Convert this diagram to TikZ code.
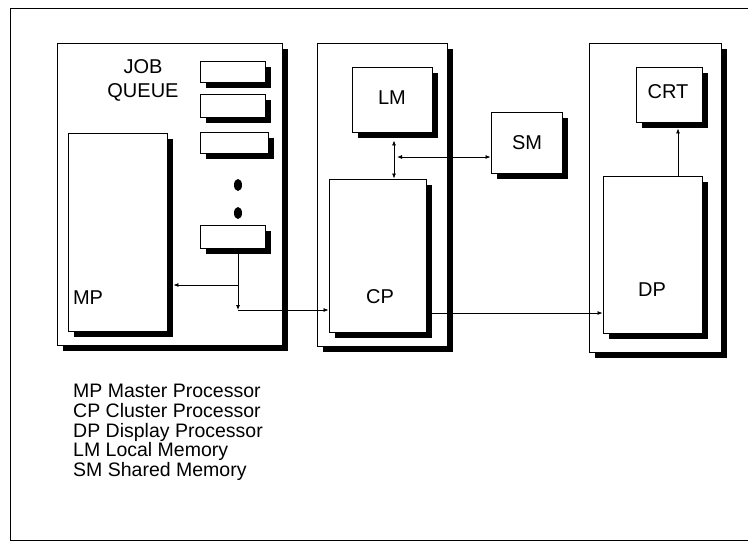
\documentclass[tikz,border=0pt]{standalone}
\usepackage{fontspec}
\setmainfont{Liberation Sans}
\usepackage{tikz}
\usetikzlibrary{arrows.meta, positioning, calc, shadows}

\begin{document}
\begin{tikzpicture}[
    x=1pt, y=-1pt,
    box/.style={draw, line width=0.9pt, fill=white, inner sep=0pt, drop shadow={shadow xshift=6pt, shadow yshift=-6pt, opacity=1, fill=black}},
    txt/.style={font=\fontsize{20}{24}\selectfont, align=center, inner sep=0pt},
    conn/.style={line width=0.8pt, -{Latex[length=5pt,width=4pt]}},
    biconn/.style={line width=0.8pt, {Latex[length=5pt,width=4pt]}-{Latex[length=5pt,width=4pt]}},
]
    \useasboundingbox (0,0) rectangle (748,542);
    \draw[line width=0.9pt] (748,8) -- (10,8) -- (10,540) -- (748,540);

    \node[box, minimum width=225pt, minimum height=302pt] (mpclu) at (169.5,194) {};
    \node[box, minimum width=130pt, minimum height=303pt] (cpclu) at (382,194.5) {};
    \node[box, minimum width=132pt, minimum height=309pt] (dpclu) at (655,197.5) {};

    \node[txt] (jq) at (143,80) {JOB\\QUEUE};
    \node[box, minimum width=65pt, minimum height=21pt] (q1) at (232.5,71.5) {};
    \node[box, minimum width=65pt, minimum height=23pt] (q2) at (232.5,105.5) {};
    \node[box, minimum width=68pt, minimum height=21pt] (q3) at (234,142.5) {};
    \fill (238,185) ellipse (4pt and 6pt);
    \fill (238,213) ellipse (4pt and 6pt);
    \node[box, minimum width=65pt, minimum height=23pt] (q4) at (232.5,236.5) {};
    \node[box, minimum width=99pt, minimum height=198pt] (mp) at (117.5,232) {};
    \node[txt] (mptxt) at (88,298) {MP};

    \node[box, minimum width=80pt, minimum height=65pt] (lm) at (392,99.5) {};
    \node[txt] (lmtxt) at (392,98) {LM};
    \node[box, minimum width=97pt, minimum height=153pt] (cp) at (377.5,255.5) {};
    \node[txt] (cptxt) at (380,297) {CP};
    \node[box, minimum width=71pt, minimum height=61pt] (sm) at (526.5,142.5) {};
    \node[txt] (smtxt) at (527,143) {SM};

    \node[box, minimum width=66pt, minimum height=55pt] (crt) at (669,94.5) {};
    \node[txt] (crttxt) at (668,92) {CRT};
    \node[box, minimum width=99pt, minimum height=157pt] (dp) at (652.5,254.5) {};
    \node[txt] (dptxt) at (652,290) {DP};

    \coordinate (qdrop) at (238,310);
    \coordinate (qbr) at (238,285);
    \coordinate (bus) at (394,157);
    \coordinate (cpout) at (432,313);
    \coordinate (dpup) at (678,176);

    \draw[conn] (qdrop |- q4.south) -- (qdrop);
    \draw[conn] (qbr) -- ([xshift=6pt]qbr -| mp.east);
    \draw[conn] (qdrop) -- (qdrop -| cp.west);
    \draw[biconn] ([yshift=-8pt]bus |- lm.south) -- (bus |- cp.north);
    \draw[biconn] ([xshift=3pt]bus) -- (bus -| sm.west);
    \draw[conn] (cpout) -- (cpout -| dp.west);
    \draw[conn] (dpup) -- ([yshift=-6pt]dpup |- crt.south);

    \node[anchor=north west, align=left, inner sep=0pt, font=\fontsize{19.5}{19.75}\selectfont] (legend) at (73,384) {
        MP Master Processor\\
        CP Cluster Processor\\
        DP Display Processor\\
        LM Local Memory\\
        SM Shared Memory
    };
\end{tikzpicture}
\end{document}
